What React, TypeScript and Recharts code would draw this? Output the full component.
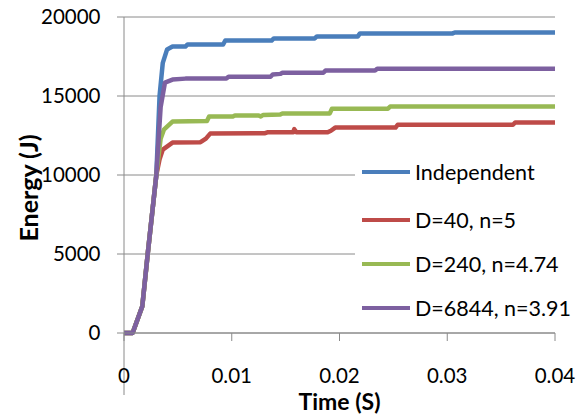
import React from "react";
import { LineChart, Line, XAxis, YAxis, CartesianGrid, Legend } from "recharts";

// ---- data ----
const xTicks = [0, 0.01, 0.02, 0.03, 0.04];
const yTicks = [0, 5000, 10000, 15000, 20000];

const seriesNames = ["Independent", "D=40, n=5", "D=240, n=4.74", "D=6844, n=3.91"];
const seriesColors = ["#4A7EBB", "#BE4B48", "#98B954", "#7D60A0"];

const independentTime = [0, 0.0008, 0.0017, 0.0022, 0.003, 0.0033, 0.0036, 0.004, 0.0045, 0.0057, 0.0059, 0.0092, 0.0094, 0.0137, 0.0139, 0.0177, 0.0179, 0.0217, 0.0219, 0.0305, 0.0307, 0.04];
const independentEnergy = [0, 0, 1700, 5000, 10000, 15000, 17100, 17950, 18130, 18130, 18260, 18260, 18510, 18510, 18640, 18640, 18770, 18770, 18960, 18960, 19020, 19020];

const d40Time = [0, 0.0008, 0.0017, 0.0022, 0.003, 0.0033, 0.0036, 0.0045, 0.0071, 0.0076, 0.008, 0.0131, 0.0133, 0.0157, 0.0158, 0.016, 0.0189, 0.0192, 0.0196, 0.0252, 0.0254, 0.0361, 0.0363, 0.04];
const d40Energy = [0, 0, 1700, 5000, 10000, 11000, 11610, 12050, 12080, 12300, 12620, 12650, 12700, 12700, 12900, 12700, 12700, 12800, 13000, 13000, 13180, 13180, 13320, 13320];

const d240Time = [0, 0.0008, 0.0017, 0.0022, 0.003, 0.0034, 0.0037, 0.0045, 0.0077, 0.0079, 0.0101, 0.0103, 0.0125, 0.0127, 0.0129, 0.0145, 0.0147, 0.0191, 0.0193, 0.0245, 0.0247, 0.04];
const d240Energy = [0, 0, 1700, 5000, 10000, 12300, 12870, 13380, 13420, 13700, 13700, 13770, 13770, 13700, 13800, 13830, 13900, 13900, 14200, 14200, 14330, 14330];

const d6844Time = [0, 0.0008, 0.0017, 0.0022, 0.003, 0.0034, 0.0038, 0.0045, 0.0057, 0.0095, 0.0097, 0.0136, 0.0138, 0.0145, 0.0147, 0.0185, 0.0187, 0.0233, 0.0235, 0.04];
const d6844Energy = [0, 0, 1700, 5000, 10000, 14300, 15850, 16040, 16100, 16110, 16220, 16220, 16360, 16400, 16470, 16470, 16610, 16610, 16720, 16720];

const zip = (ts: number[], es: number[]) => ts.map((t, i) => ({ t, e: es[i] }));
const seriesData = [
  zip(independentTime, independentEnergy),
  zip(d40Time, d40Energy),
  zip(d240Time, d240Energy),
  zip(d6844Time, d6844Energy),
];

// ---- styling ----
const FONT = "Lato, 'Liberation Sans', sans-serif";
const GRID = "#8A8A8A";
const X_TICK_SIZE = 8;
const X_TICK_MARGIN = 27;

const XTick = (props: any) => {
  const { x, y, payload } = props;
  const axisY = y - X_TICK_SIZE - X_TICK_MARGIN;
  return (
    <g>
      {payload.value === 0 ? (
        <line x1={x} x2={x} y1={axisY} y2={axisY + 62} stroke={GRID} strokeWidth={1} />
      ) : null}
      <text x={x} y={y} dy="0.71em" textAnchor="middle" fontFamily={FONT} fontSize={20.5} fill="#000">
        {String(payload.value)}
      </text>
    </g>
  );
};

const LegendContent = () => {
  const rowTops = [0, 48, 92, 136];
  return (
    <div style={{ position: "relative", width: "100%", height: "100%", background: "#fff" }}>
      {seriesNames.map((name, i) => (
        <div
          key={name}
          style={{
            position: "absolute",
            left: 7,
            top: 8 + rowTops[i],
            height: 28,
            display: "flex",
            alignItems: "center",
            whiteSpace: "nowrap",
          }}
        >
          <div style={{ width: 48, height: 3.5, background: seriesColors[i], marginRight: 5 }} />
          <span style={{ fontFamily: FONT, fontSize: 21.5, color: "#000" }}>{name}</span>
        </div>
      ))}
    </div>
  );
};

export default function App() {
  return (
    <div style={{ position: "absolute", left: 0, top: 0, width: 584, height: 419, background: "#fff" }}>
      <LineChart width={584} height={419} margin={{ top: 17, right: 29, left: 0, bottom: 0 }}>
        <CartesianGrid vertical={false} stroke={GRID} strokeWidth={1} />
        <XAxis
          dataKey="t"
          type="number"
          domain={[0, 0.04]}
          ticks={xTicks}
          height={86}
          stroke={GRID}
          tickSize={X_TICK_SIZE}
          tickMargin={X_TICK_MARGIN}
          tick={<XTick />}
          allowDataOverflow
          label={{
            content: (lp: any) => {
              const vb = lp.viewBox;
              return (
                <text
                  x={vb.x + vb.width / 2}
                  y={vb.y + 77}
                  textAnchor="middle"
                  fontFamily={FONT}
                  fontWeight="bold"
                  fontSize={23}
                  fill="#000"
                >
                  Time (S)
                </text>
              );
            },
          }}
        />
        <YAxis
          type="number"
          domain={[0, 20000]}
          ticks={yTicks}
          width={124}
          stroke={GRID}
          tickSize={7}
          tickMargin={16.5}
          tick={{ fontFamily: FONT, fontSize: 20.5, fill: "#000" }}
          label={{
            content: (lp: any) => {
              const vb = lp.viewBox;
              const cx = 28;
              const cy = vb.y + 171;
              return (
                <text
                  x={cx}
                  y={cy}
                  transform={`rotate(-90, ${cx}, ${cy})`}
                  textAnchor="middle"
                  dominantBaseline="central"
                  fontFamily={FONT}
                  fontWeight="bold"
                  fontSize={25}
                  fill="#000"
                >
                  Energy (J)
                </text>
              );
            },
          }}
        />
        <Legend
          layout="vertical"
          align="center"
          verticalAlign="middle"
          content={<LegendContent />}
          wrapperStyle={{ left: 355, top: 150, width: 225, height: 178 }}
        />
        {seriesData.map((d, i) => (
          <Line
            key={seriesNames[i]}
            data={d}
            dataKey="e"
            name={seriesNames[i]}
            type="linear"
            stroke={seriesColors[i]}
            strokeWidth={4.5}
            strokeLinejoin="round"
            dot={false}
            activeDot={false}
            isAnimationActive={false}
          />
        ))}
      </LineChart>
    </div>
  );
}
